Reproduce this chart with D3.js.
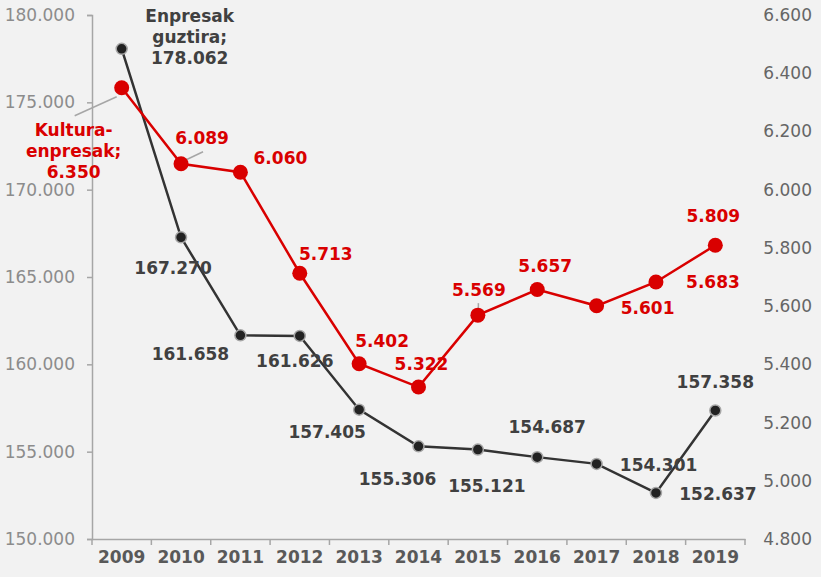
<!DOCTYPE html>
<html>
<head>
<meta charset="utf-8">
<script src="https://cdn.jsdelivr.net/npm/d3@7"></script>
<style>
  body { margin: 0; background: #f2f2f2; }
  svg { display: block; font-family: "DejaVu Sans", Verdana, sans-serif; }
  svg text { font-family: "DejaVu Sans", Verdana, sans-serif; }
</style>
</head>
<body>
<div id="chart"></div>
<script>
var years = ["2009", "2010", "2011", "2012", "2013", "2014", "2015", "2016", "2017", "2018", "2019"];
var totalCompanies = [178062, 167270, 161658, 161626, 157405, 155306, 155121, 154687, 154301, 152637, 157358];
var cultureCompanies = [6350, 6089, 6060, 5713, 5402, 5322, 5569, 5657, 5601, 5683, 5809];
var leftTicks = [150000, 155000, 160000, 165000, 170000, 175000, 180000];
var rightTicks = [4800, 5000, 5200, 5400, 5600, 5800, 6000, 6200, 6400, 6600];
var totalName = ["Enpresak", "guztira;"];
var cultureName = ["Kultura-", "enpresak;"];

// label offsets from each point (layout only)
var totalOffsets = [[68, -12], [-8, 31], [-50, 19], [-5, 25], [-32, 22], [-21, 33], [9, 36], [10, -30], [62, 1], [62, 1], [0, -28]];
var cultureOffsets = [[-48, 63], [21, -26], [40, -14], [26, -19], [23, -23], [3, -23], [1, -25], [8, -23], [51, 2], [57, 0], [-2, -29]];

var width = 821, height = 577;
var red = "#d90000", dark = "#333333";

var fmt = function(v) { return d3.format(",")(v).replace(/,/g, "."); };

var svg = d3.select("#chart").append("svg")
    .attr("width", width)
    .attr("height", height);

svg.append("rect").attr("width", width).attr("height", height).attr("fill", "#f2f2f2");

var x = d3.scaleBand().domain(years).range([92, 745]);
var yL = d3.scaleLinear().domain([150000, 180000]).range([539, 15]);
var yR = d3.scaleLinear().domain([4800, 6600]).range([539, 15]);
var cx = function(i) { return x(years[i]) + x.bandwidth() / 2; };

// left axis
var leftAxis = svg.append("g")
    .attr("transform", "translate(92,0)")
    .call(d3.axisLeft(yL).tickValues(leftTicks).tickFormat(fmt).tickSize(5).tickPadding(12));
leftAxis.attr("font-family", null);
leftAxis.select(".domain").attr("stroke", "#a6a6a6").attr("stroke-width", 1.5);
leftAxis.selectAll(".tick line").attr("stroke", "#a6a6a6").attr("stroke-width", 1.5);
leftAxis.selectAll("text").attr("fill", "#8c8c8c").style("font-size", "17px");

// right axis, no line
var rightAxis = svg.append("g")
    .attr("transform", "translate(745,0)")
    .call(d3.axisRight(yR).tickValues(rightTicks).tickFormat(fmt).tickSize(0).tickPadding(67));
rightAxis.attr("font-family", null);
rightAxis.select(".domain").remove();
rightAxis.selectAll("text").attr("fill", "#666").attr("text-anchor", "end").style("font-size", "17px");

// bottom axis
var bottomAxis = svg.append("g")
    .attr("transform", "translate(0,539)")
    .call(d3.axisBottom(x).tickSize(0).tickPadding(12));
bottomAxis.attr("font-family", null);
bottomAxis.select(".domain").attr("stroke", "#a6a6a6").attr("stroke-width", 1.5);
bottomAxis.selectAll("text").attr("fill", "#595959").style("font-size", "17px").style("font-weight", "bold");
svg.append("g").selectAll("line")
    .data(d3.range(years.length + 1))
    .enter().append("line")
    .attr("x1", function(i) { return 92 + i * x.step(); })
    .attr("x2", function(i) { return 92 + i * x.step(); })
    .attr("y1", 539).attr("y2", 545)
    .attr("stroke", "#a6a6a6").attr("stroke-width", 1.5);

// leader lines
var leaders = [
  [cx(0) - 47, yR(6350) + 28, cx(0) - 5, yR(6350) + 9],
  [cx(1) + 1, yR(6089) - 2, cx(1) + 22, yR(6089) - 12],
  [cx(6) + 0.5, yR(5569) - 12, cx(6) + 0.5, yR(5569) - 2]
];
svg.append("g").selectAll("line")
    .data(leaders)
    .enter().append("line")
    .attr("x1", function(d) { return d[0]; })
    .attr("y1", function(d) { return d[1]; })
    .attr("x2", function(d) { return d[2]; })
    .attr("y2", function(d) { return d[3]; })
    .attr("stroke", "#a6a6a6").attr("stroke-width", 1.5);

// total line
svg.append("path")
    .datum(totalCompanies)
    .attr("fill", "none")
    .attr("stroke", dark)
    .attr("stroke-width", 2.5)
    .attr("d", d3.line().x(function(d, i) { return cx(i); }).y(function(d) { return yL(d); }));

// culture line
svg.append("path")
    .datum(cultureCompanies)
    .attr("fill", "none")
    .attr("stroke", red)
    .attr("stroke-width", 2.5)
    .attr("d", d3.line().x(function(d, i) { return cx(i); }).y(function(d) { return yR(d); }));

svg.append("g").selectAll("circle")
    .data(totalCompanies)
    .enter().append("circle")
    .attr("cx", function(d, i) { return cx(i); })
    .attr("cy", function(d) { return yL(d); })
    .attr("r", 5.5)
    .attr("fill", "#222")
    .attr("stroke", "#a6a6a6")
    .attr("stroke-width", 1.5);

svg.append("g").selectAll("circle")
    .data(cultureCompanies)
    .enter().append("circle")
    .attr("cx", function(d, i) { return cx(i); })
    .attr("cy", function(d) { return yR(d); })
    .attr("r", 7.5)
    .attr("fill", red);

// labels
function addLabels(values, yScale, offsets, color, firstName) {
  var g = svg.append("g")
      .style("font-size", "17px")
      .style("font-weight", "bold")
      .attr("fill", color)
      .attr("text-anchor", "middle");
  values.forEach(function(v, i) {
    var lines = [fmt(v)];
    if (i === 0) lines = firstName.concat(lines);
    var lx = cx(i) + offsets[i][0];
    var ly = yScale(v) + offsets[i][1];
    lines.forEach(function(t, k) {
      g.append("text")
          .attr("x", lx)
          .attr("y", ly + (k - (lines.length - 1) / 2) * 21)
          .attr("dy", "0.35em")
          .text(t);
    });
  });
}
addLabels(totalCompanies, yL, totalOffsets, "#404040", totalName);
addLabels(cultureCompanies, yR, cultureOffsets, red, cultureName);
</script>
</body>
</html>
